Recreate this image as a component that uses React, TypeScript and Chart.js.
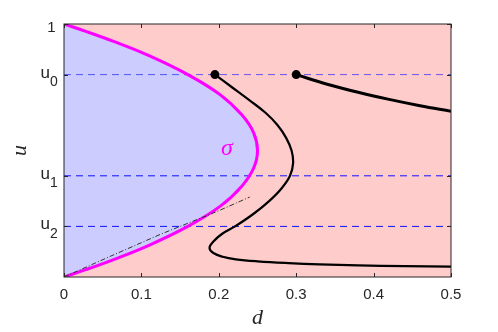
import { useEffect, useRef } from 'react';
import { Chart, registerables } from 'chart.js';

Chart.register(...registerables);

// ---- data ----
const xTickValues = [0, 0.1, 0.2, 0.3, 0.4, 0.5];
const xTickLabels = ['0', '0.1', '0.2', '0.3', '0.4', '0.5'];

const yTickValues = [1, 0.8, 0.4, 0.2];
const yTickMain = ['1', 'u', 'u', 'u'];
const yTickSub = ['', '0', '1', '2'];

const levelValues = [0.8, 0.4, 0.2]; // u0, u1, u2

// sigma curve (boundary of the blue region)
const sigmaU = [1, 0.97, 0.93, 0.88, 0.8, 0.72, 0.64, 0.57, 0.5, 0.43, 0.36, 0.28, 0.2, 0.12, 0.07, 0.03, 0];
const sigmaD = [0, 0.029, 0.065, 0.106, 0.16, 0.202, 0.23, 0.245, 0.25, 0.245, 0.23, 0.202, 0.16, 0.106, 0.065, 0.029, 0];

// first black branch (S-shaped)
const branch1U = [0.8, 0.75, 0.7, 0.65, 0.6, 0.55, 0.5, 0.45, 0.4, 0.35, 0.3, 0.25, 0.2, 0.17, 0.14, 0.115, 0.095, 0.08, 0.07, 0.062, 0.055, 0.05, 0.046, 0.043, 0.041];
const branch1D = [0.195, 0.217, 0.239, 0.26, 0.276, 0.287, 0.294, 0.296, 0.292, 0.281, 0.265, 0.245, 0.221, 0.204, 0.193, 0.188, 0.193, 0.205, 0.222, 0.25, 0.29, 0.33, 0.38, 0.44, 0.5];

// second black branch
const branch2D = [0.3, 0.34, 0.38, 0.42, 0.46, 0.5];
const branch2U = [0.8, 0.762, 0.73, 0.702, 0.677, 0.655];

// dash-dot guide line
const guideD = [0, 0.06, 0.124, 0.154, 0.2, 0.24];
const guideU = [0, 0.082, 0.168, 0.205, 0.262, 0.316];

// start markers
const startD = [0.195, 0.3];
const startU = [0.8, 0.8];

const sigmaLabelText = 'σ';
const sigmaLabelD = 0.2106;
const sigmaLabelU = 0.506;

const zip = (xs: number[], ys: number[]) => xs.map((x, i) => ({ x, y: ys[i] }));

const TEXT = '#262626';

const decorPlugin = {
  id: 'decor',
  beforeDraw(chart: any) {
    const { ctx, chartArea: a } = chart;
    ctx.save();
    ctx.fillStyle = '#ffcccc';
    ctx.fillRect(a.left, a.top, a.right - a.left, a.bottom - a.top);
    ctx.restore();
  },
  afterDatasetsDraw(chart: any) {
    const { ctx, scales } = chart;
    ctx.save();
    ctx.fillStyle = '#ff00ff';
    ctx.font = 'italic 24px "Liberation Serif", "DejaVu Serif", serif';
    ctx.textAlign = 'center';
    ctx.textBaseline = 'middle';
    ctx.fillText(sigmaLabelText, scales.x.getPixelForValue(sigmaLabelD), scales.y.getPixelForValue(sigmaLabelU));
    ctx.restore();
  },
  afterDraw(chart: any) {
    const { ctx, chartArea: a, scales } = chart;
    ctx.save();
    // box
    ctx.strokeStyle = TEXT;
    ctx.lineWidth = 1;
    ctx.strokeRect(a.left, a.top, a.right - a.left, a.bottom - a.top);
    // inward ticks
    const tl = 4;
    ctx.beginPath();
    xTickValues.forEach((v) => {
      const px = Math.round(scales.x.getPixelForValue(v)) + 0.5;
      ctx.moveTo(px, a.bottom);
      ctx.lineTo(px, a.bottom - tl);
      ctx.moveTo(px, a.top);
      ctx.lineTo(px, a.top + tl);
    });
    yTickValues.forEach((v) => {
      const py = Math.round(scales.y.getPixelForValue(v)) + 0.5;
      ctx.moveTo(a.left, py);
      ctx.lineTo(a.left + tl, py);
      ctx.moveTo(a.right, py);
      ctx.lineTo(a.right - tl, py);
    });
    ctx.stroke();
    // y tick labels with subscripts
    ctx.fillStyle = TEXT;
    ctx.textBaseline = 'alphabetic';
    ctx.textAlign = 'right';
    yTickValues.forEach((v, i) => {
      const py = scales.y.getPixelForValue(v);
      const sub = yTickSub[i];
      if (!sub) {
        ctx.font = '15px "Liberation Sans", Arial, sans-serif';
        ctx.fillText(yTickMain[i], a.left - 8.5, py + 7.5);
      } else {
        ctx.font = '14px "Liberation Sans", Arial, sans-serif';
        const right = a.left - 6.3;
        const w = ctx.measureText(sub).width;
        ctx.fillText(sub, right, py + 11.5);
        ctx.font = '17px "Liberation Sans", Arial, sans-serif';
        ctx.fillText(yTickMain[i], right - w, py + 3);
      }
    });
    ctx.restore();
  },
};

export default function App() {
  const ref = useRef<HTMLCanvasElement | null>(null);

  useEffect(() => {
    if (!ref.current) return;
    const line = (data: any[], color: string, width: number, extra: any = {}) => ({
      data,
      showLine: true,
      borderColor: color,
      backgroundColor: color,
      borderWidth: width,
      pointRadius: 0,
      tension: 0.4,
      fill: false,
      ...extra,
    });
    const chart = new Chart(ref.current, {
      type: 'scatter',
      data: {
        datasets: [
          {
            data: zip(startD, startU),
            showLine: false,
            pointRadius: 4.5,
            pointBackgroundColor: '#000',
            pointBorderColor: '#000',
            pointBorderWidth: 0,
          },
          line(zip(branch2D, branch2U), '#000', 3),
          line(zip(branch1D, branch1U), '#000', 2.2),
          line(zip(guideD, guideU), '#333', 1, { tension: 0, borderDash: [5, 2, 1, 2] }),
          line(zip(sigmaD, sigmaU), '#ff00ff', 3),
          line([{ x: 0, y: levelValues[0] }, { x: 0.5, y: levelValues[0] }], 'rgba(0,0,255,0.6)', 1, { tension: 0, borderDash: [7, 5] }),
          line([{ x: 0, y: levelValues[1] }, { x: 0.5, y: levelValues[1] }], '#1010ff', 1, { tension: 0, borderDash: [7, 5] }),
          line([{ x: 0, y: levelValues[2] }, { x: 0.5, y: levelValues[2] }], '#1010ff', 1, { tension: 0, borderDash: [7, 5] }),
          line(zip(sigmaD, sigmaU), 'rgba(0,0,0,0)', 0, { fill: 'shape', backgroundColor: '#ccccff' }),
        ] as any,
      },
      options: {
        animation: false,
        responsive: false,
        devicePixelRatio: 1,
        layout: { padding: { top: 24, right: 47, bottom: 0, left: 0 } },
        plugins: { legend: { display: false }, tooltip: { enabled: false } },
        scales: {
          x: {
            type: 'linear',
            min: 0,
            max: 0.5,
            grid: { display: false, drawTicks: false },
            border: { display: false },
            afterBuildTicks: (s: any) => {
              s.ticks = xTickValues.map((value) => ({ value }));
            },
            afterFit: (s: any) => {
              s.height = 55;
            },
            ticks: {
              padding: 9,
              color: TEXT,
              font: { family: '"Liberation Sans", Arial, sans-serif', size: 15 },
              maxRotation: 0,
              callback: (_v: any, i: number) => xTickLabels[i],
            },
            title: {
              display: true,
              text: 'd',
              color: TEXT,
              font: { family: '"Liberation Serif", "DejaVu Serif", serif', style: 'italic', size: 22 },
              padding: { top: 0, bottom: 1 },
            },
          },
          y: {
            type: 'linear',
            min: 0,
            max: 1,
            grid: { display: false, drawTicks: false },
            border: { display: false },
            ticks: { display: false },
            afterFit: (s: any) => {
              s.width = 64;
            },
            title: {
              display: true,
              text: 'u',
              color: TEXT,
              font: { family: '"Liberation Serif", "DejaVu Serif", serif', style: 'italic', size: 22 },
              padding: { top: 7, bottom: 0 },
            },
          },
        },
      } as any,
      plugins: [decorPlugin as any],
    });
    return () => chart.destroy();
  }, []);

  return (
    <div style={{ position: 'fixed', left: 0, top: 0, width: 498, height: 332 }}>
      <canvas ref={ref} width={498} height={332} style={{ display: 'block', width: 498, height: 332 }} />
    </div>
  );
}
